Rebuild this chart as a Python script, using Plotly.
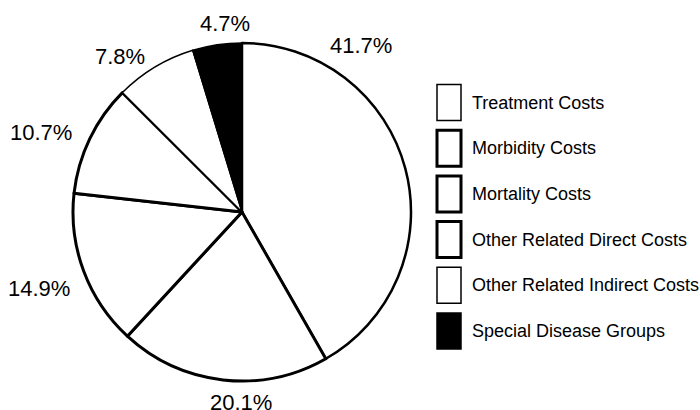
import plotly.graph_objects as go

# ---- data ----
categories = ["Treatment Costs", "Morbidity Costs", "Mortality Costs",
              "Other Related Direct Costs", "Other Related Indirect Costs",
              "Special Disease Groups"]
shares = [41.7, 20.1, 14.9, 10.7, 7.8, 4.7]
pct_labels = ["41.7%", "20.1%", "14.9%", "10.7%", "7.8%", "4.7%"]

# ---- styles / layout ----
W, H = 700, 410
fills = ["white", "white", "white", "white", "white", "black"]
border_w = [2.5, 3, 3, 3, 1.5, 1.5]
legend_border_w = [1.5, 3, 3, 3, 1.5, 1.5]
label_px = [(361, 46), (241, 402), (39, 288), (41, 132), (120, 56), (225, 23)]
cx, cy, R = 242, 212, 169
FONT = "Liberation Sans, Arial, Helvetica, sans-serif"

fig = go.Figure(go.Pie(
    labels=categories, values=shares, sort=False, direction="clockwise",
    rotation=0, textinfo="none", hoverinfo="label+percent", showlegend=False,
    marker=dict(colors=fills, line=dict(color="black", width=border_w)),
    domain=dict(x=[(cx - R) / W, (cx + R) / W],
                y=[(H - cy - R) / H, (H - cy + R) / H]),
))

annotations = []
for txt, (px, py) in zip(pct_labels, label_px):
    annotations.append(dict(x=px / W, y=1 - py / H, xref="paper", yref="paper",
                            text=txt, showarrow=False, xanchor="center", yanchor="middle",
                            font=dict(family=FONT, size=22, color="black")))

shapes = []
box_x0, box_x1 = 437, 461
row0, row_step, box_h = 102.5, 45.7, 36
for i, (cat, fc, lw) in enumerate(zip(categories, fills, legend_border_w)):
    yc = row0 + i * row_step
    shapes.append(dict(type="rect", xref="paper", yref="paper",
                       x0=box_x0 / W, x1=box_x1 / W,
                       y0=1 - (yc - box_h / 2) / H, y1=1 - (yc + box_h / 2) / H,
                       fillcolor=fc, line=dict(color="black", width=lw)))
    annotations.append(dict(x=470 / W, y=1 - yc / H, xref="paper", yref="paper",
                            text=cat, showarrow=False, xanchor="left", yanchor="middle",
                            font=dict(family=FONT, size=18, color="black")))

fig.update_layout(width=W, height=H, margin=dict(l=0, r=0, t=0, b=0),
                  paper_bgcolor="white", plot_bgcolor="white",
                  annotations=annotations, shapes=shapes)
fig.write_html("out.html", config={"displayModeBar": False},
               post_script="document.body.style.margin='0';")
